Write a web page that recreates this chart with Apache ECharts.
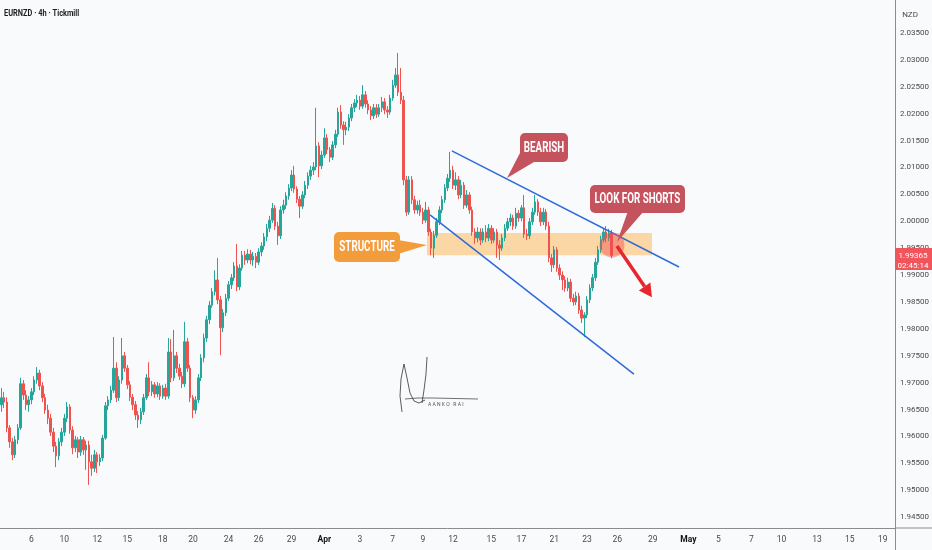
<!DOCTYPE html>
<html><head><meta charset="utf-8">
<script src="https://cdn.jsdelivr.net/npm/echarts@6/dist/echarts.min.js"></script>
<style>html,body{margin:0;padding:0;background:#f9fafc}#c{width:932px;height:550px}</style>
</head><body><div id="c"></div>
<script>
const symbolTitle = 'EURNZD · 4h · Tickmill';
const currency = 'NZD';
const slotCount = 327;
const dateLabelSlots = [11,23,35,46,59,70,83,94,106,118,131,143,154,165,179,190,202,214,225,238,251,262,274,285,298,310,322];
const dateLabels = ['6','10','12','15','18','20','24','26','29','Apr','3','7','9','12','15','17','21','23','26','29','May','5','7','10','13','15','19'];
const monthLabels = ['Apr','May'];
// [open, close, low, high]
const candles = [
[1.9659,1.9672,1.9646,1.9690],[1.9672,1.9664,1.9653,1.9683],[1.9664,1.9616,1.9608,1.9673],[1.9616,1.9590,1.9579,1.9621],[1.9590,1.9566,1.9556,1.9597],
[1.9566,1.9594,1.9560,1.9601],[1.9594,1.9616,1.9586,1.9623],[1.9616,1.9698,1.9612,1.9709],[1.9698,1.9677,1.9668,1.9705],[1.9677,1.9659,1.9649,1.9686],
[1.9659,1.9668,1.9646,1.9675],[1.9668,1.9683,1.9660,1.9690],[1.9683,1.9705,1.9677,1.9712],[1.9705,1.9718,1.9698,1.9729],[1.9718,1.9694,1.9686,1.9724],
[1.9694,1.9672,1.9664,1.9701],[1.9672,1.9649,1.9642,1.9679],[1.9649,1.9634,1.9623,1.9659],[1.9634,1.9608,1.9601,1.9642],[1.9608,1.9582,1.9571,1.9616],
[1.9582,1.9564,1.9543,1.9590],[1.9564,1.9590,1.9556,1.9597],[1.9590,1.9608,1.9582,1.9616],[1.9608,1.9634,1.9601,1.9642],[1.9634,1.9655,1.9627,1.9664],
[1.9655,1.9612,1.9605,1.9660],[1.9612,1.9579,1.9567,1.9619],[1.9579,1.9594,1.9571,1.9601],[1.9594,1.9571,1.9560,1.9599],[1.9571,1.9594,1.9564,1.9601],
[1.9594,1.9575,1.9566,1.9599],[1.9575,1.9584,1.9538,1.9592],[1.9584,1.9553,1.9510,1.9592],[1.9553,1.9541,1.9527,1.9566],[1.9541,1.9566,1.9534,1.9575],
[1.9566,1.9553,1.9532,1.9571],[1.9553,1.9560,1.9545,1.9567],[1.9560,1.9597,1.9554,1.9603],[1.9597,1.9657,1.9594,1.9664],[1.9657,1.9668,1.9649,1.9675],
[1.9668,1.9686,1.9662,1.9694],[1.9686,1.9727,1.9681,1.9785],[1.9727,1.9672,1.9664,1.9738],[1.9672,1.9705,1.9666,1.9712],[1.9705,1.9750,1.9698,1.9783],
[1.9750,1.9727,1.9720,1.9757],[1.9727,1.9696,1.9688,1.9733],[1.9696,1.9673,1.9666,1.9703],[1.9673,1.9659,1.9649,1.9679],[1.9659,1.9640,1.9631,1.9666],
[1.9640,1.9631,1.9616,1.9647],[1.9631,1.9646,1.9623,1.9653],[1.9646,1.9672,1.9640,1.9679],[1.9672,1.9709,1.9668,1.9716],[1.9709,1.9683,1.9675,1.9738],
[1.9683,1.9696,1.9675,1.9703],[1.9696,1.9679,1.9672,1.9701],[1.9679,1.9694,1.9673,1.9701],[1.9694,1.9675,1.9668,1.9699],[1.9675,1.9690,1.9670,1.9696],
[1.9690,1.9675,1.9668,1.9698],[1.9675,1.9757,1.9670,1.9783],[1.9757,1.9709,1.9701,1.9781],[1.9709,1.9750,1.9703,1.9798],[1.9750,1.9727,1.9718,1.9757],
[1.9727,1.9712,1.9705,1.9735],[1.9712,1.9698,1.9690,1.9720],[1.9698,1.9776,1.9692,1.9813],[1.9776,1.9727,1.9720,1.9783],[1.9727,1.9672,1.9664,1.9733],
[1.9672,1.9649,1.9634,1.9677],[1.9649,1.9668,1.9642,1.9675],[1.9668,1.9709,1.9662,1.9716],[1.9709,1.9746,1.9703,1.9753],[1.9746,1.9783,1.9738,1.9791],
[1.9783,1.9817,1.9776,1.9824],[1.9817,1.9844,1.9809,1.9852],[1.9844,1.9869,1.9839,1.9876],[1.9869,1.9891,1.9862,1.9909],[1.9891,1.9854,1.9846,1.9932],
[1.9854,1.9802,1.9751,1.9861],[1.9802,1.9830,1.9794,1.9837],[1.9830,1.9857,1.9824,1.9865],[1.9857,1.9882,1.9852,1.9889],[1.9882,1.9895,1.9874,1.9902],
[1.9895,1.9917,1.9889,1.9924],[1.9917,1.9878,1.9870,1.9958],[1.9878,1.9913,1.9872,1.9920],[1.9913,1.9937,1.9908,1.9945],[1.9937,1.9928,1.9919,1.9945],
[1.9928,1.9939,1.9922,1.9948],[1.9939,1.9928,1.9920,1.9947],[1.9928,1.9935,1.9917,1.9943],[1.9935,1.9924,1.9913,1.9941],[1.9924,1.9943,1.9919,1.9950],
[1.9943,1.9954,1.9935,1.9961],[1.9954,1.9971,1.9947,1.9978],[1.9971,1.9987,1.9963,1.9995],[1.9987,2.0002,1.9980,2.0010],[2.0002,2.0024,1.9997,2.0034],
[2.0024,1.9991,1.9984,2.0030],[1.9991,1.9973,1.9956,1.9999],[1.9973,2.0021,1.9967,2.0028],[2.0021,2.0030,2.0014,2.0040],[2.0030,2.0047,2.0023,2.0054],
[2.0047,2.0062,2.0040,2.0069],[2.0062,2.0086,2.0056,2.0095],[2.0086,2.0060,2.0053,2.0103],[2.0060,2.0041,2.0034,2.0065],[2.0041,2.0028,2.0006,2.0047],
[2.0028,2.0049,2.0023,2.0056],[2.0049,2.0067,2.0043,2.0075],[2.0067,2.0084,2.0060,2.0091],[2.0084,2.0095,2.0077,2.0103],[2.0095,2.0101,2.0086,2.0110],
[2.0101,2.0140,2.0095,2.0211],[2.0140,2.0103,2.0082,2.0147],[2.0103,2.0123,2.0097,2.0131],[2.0123,2.0155,2.0118,2.0173],[2.0155,2.0133,2.0125,2.0162],
[2.0133,2.0119,2.0110,2.0138],[2.0119,2.0142,2.0114,2.0149],[2.0142,2.0162,2.0136,2.0170],[2.0162,2.0203,2.0157,2.0211],[2.0203,2.0179,2.0172,2.0216],
[2.0179,2.0170,2.0142,2.0186],[2.0170,2.0175,2.0160,2.0185],[2.0175,2.0192,2.0168,2.0199],[2.0192,2.0211,2.0186,2.0218],[2.0211,2.0220,2.0203,2.0227],
[2.0220,2.0225,2.0212,2.0235],[2.0225,2.0214,2.0207,2.0233],[2.0214,2.0235,2.0209,2.0253],[2.0235,2.0218,2.0211,2.0242],[2.0218,2.0207,2.0199,2.0225],
[2.0207,2.0196,2.0188,2.0214],[2.0196,2.0211,2.0190,2.0218],[2.0211,2.0199,2.0192,2.0218],[2.0199,2.0211,2.0194,2.0218],[2.0211,2.0222,2.0203,2.0231],
[2.0222,2.0207,2.0199,2.0229],[2.0207,2.0203,2.0192,2.0214],[2.0203,2.0229,2.0198,2.0235],[2.0229,2.0253,2.0224,2.0263],[2.0253,2.0272,2.0248,2.0285],
[2.0272,2.0240,2.0233,2.0313],[2.0240,2.0225,2.0218,2.0285],[2.0225,2.0077,2.0067,2.0233],[2.0077,2.0017,2.0010,2.0084],[2.0017,2.0077,2.0012,2.0084],
[2.0077,2.0040,2.0032,2.0084],[2.0040,2.0021,2.0014,2.0047],[2.0021,2.0030,2.0014,2.0038],[2.0030,2.0017,2.0010,2.0040],[2.0017,2.0002,1.9995,2.0025],
[2.0002,2.0021,1.9997,2.0036],[2.0021,1.9980,1.9973,2.0027],[1.9980,1.9950,1.9937,1.9986],[1.9950,1.9974,1.9932,1.9982],[1.9974,1.9999,1.9969,2.0006],
[1.9999,2.0021,1.9993,2.0028],[2.0021,2.0040,2.0015,2.0047],[2.0040,2.0062,2.0034,2.0069],[2.0062,2.0080,2.0056,2.0088],[2.0080,2.0095,2.0073,2.0129],
[2.0095,2.0067,2.0060,2.0103],[2.0067,2.0077,2.0058,2.0091],[2.0077,2.0049,2.0041,2.0084],[2.0049,2.0067,2.0043,2.0077],[2.0067,2.0030,2.0023,2.0073],
[2.0030,2.0049,2.0025,2.0058],[2.0049,2.0021,2.0014,2.0054],[2.0021,1.9980,1.9973,2.0027],[1.9980,1.9969,1.9958,1.9987],[1.9969,1.9980,1.9961,1.9989],
[1.9980,1.9965,1.9956,1.9987],[1.9965,1.9980,1.9960,1.9987],[1.9980,1.9969,1.9961,1.9993],[1.9969,1.9987,1.9963,1.9995],[1.9987,1.9965,1.9958,1.9993],
[1.9965,1.9980,1.9960,1.9987],[1.9980,1.9956,1.9932,1.9986],[1.9956,1.9950,1.9928,1.9965],[1.9950,1.9969,1.9945,1.9976],[1.9969,1.9987,1.9963,1.9995],
[1.9987,1.9999,1.9982,2.0006],[1.9999,2.0006,1.9991,2.0014],[2.0006,1.9991,1.9984,2.0012],[1.9991,2.0015,1.9986,2.0025],[2.0015,2.0006,1.9999,2.0021],
[2.0006,2.0025,2.0000,2.0030],[2.0025,1.9976,1.9969,2.0049],[1.9976,1.9973,1.9965,1.9986],[1.9973,1.9999,1.9967,2.0006],[1.9999,2.0017,1.9993,2.0025],
[2.0017,2.0036,2.0012,2.0049],[2.0036,2.0017,2.0010,2.0041],[2.0017,1.9999,1.9991,2.0025],[1.9999,2.0017,1.9993,2.0025],[2.0017,1.9991,1.9984,2.0023],
[1.9991,1.9932,1.9924,1.9999],[1.9932,1.9919,1.9906,1.9939],[1.9919,1.9947,1.9913,1.9954],[1.9947,1.9913,1.9906,1.9952],[1.9913,1.9900,1.9891,1.9920],
[1.9900,1.9891,1.9872,1.9907],[1.9891,1.9876,1.9869,1.9898],[1.9876,1.9887,1.9870,1.9895],[1.9887,1.9857,1.9850,1.9893],[1.9857,1.9850,1.9843,1.9865],
[1.9850,1.9861,1.9844,1.9869],[1.9861,1.9835,1.9828,1.9867],[1.9835,1.9820,1.9811,1.9843],[1.9820,1.9826,1.9785,1.9831],[1.9826,1.9854,1.9820,1.9861],
[1.9854,1.9876,1.9848,1.9883],[1.9876,1.9895,1.9870,1.9902],[1.9895,1.9924,1.9889,1.9932],[1.9924,1.9947,1.9919,1.9954],[1.9947,1.9965,1.9941,1.9973],
[1.9965,1.9980,1.9960,1.9987],[1.9980,1.9969,1.9961,1.9991],[1.9969,1.9978,1.9963,1.9986],[1.9978,1.99365,1.9931,1.9984]
];
const lastPrice = 1.99365;
const countdown = '02:45:14';
// annotations in data units: [slot index, price]
const upperChannel = [[164.6, 2.0131], [247.6, 1.9915]];
const lowerChannel = [[156.6, 2.0012], [231.1, 1.9716]];
const structureZone = [[155.5, 1.9978], [237.7, 1.9937]];
const focusCircle = [223.1, 1.9956];
const arrowPath = [[224.9, 1.9954], [237.7, 1.9859]];

const FC = "Roboto,'Liberation Sans',sans-serif";
const categories = Array.from({length: slotCount}, (_, i) => String(i));
const labelAt = {};
dateLabelSlots.forEach((s, k) => { labelAt[s] = dateLabels[k]; });

const chart = echarts.init(document.getElementById('c'), null, {renderer: 'canvas'});
chart.setOption({
  animation: false,
  backgroundColor: '#f9fafc',
  grid: {left: 0, right: 37, top: 0, bottom: 22, containLabel: false, outerBoundsMode: 'none'},
  xAxis: [{
    type: 'category', data: categories, boundaryGap: true,
    axisLine: {onZero: false, lineStyle: {color: '#8c8c8c', width: 1}},
    axisTick: {show: false}, splitLine: {show: false},
    axisLabel: {
      interval: 0, margin: 7, color: '#4a4a4a', fontSize: 8.5, fontFamily: FC,
      formatter: v => { const t = labelAt[+v]; if (!t) return ''; return monthLabels.includes(t) ? '{b|' + t + '}' : t; },
      rich: {b: {fontWeight: 'bold', color: '#111', fontSize: 8.5, fontFamily: FC}}
    }
  }, {type: 'value', min: -0.5, max: slotCount - 0.5, show: false}],
  yAxis: {
    type: 'value', position: 'right', min: 1.94299, max: 2.04113,
    splitNumber: 20, minInterval: 0.005, maxInterval: 0.005,
    axisLine: {show: true, onZero: false, lineStyle: {color: '#8c8c8c', width: 1}},
    axisTick: {show: false}, splitLine: {show: false},
    axisLabel: {showMinLabel: false, showMaxLabel: false, margin: 5, color: '#4a4a4a', fontSize: 8, fontFamily: FC,
      formatter: v => v > 2.0376 ? '' : v.toFixed(5)}
  },
  series: [{
    type: 'candlestick', data: candles, barWidth: 2,
    itemStyle: {color: '#26a69a', color0: '#ef5350', borderColor: '#26a69a', borderColor0: '#ef5350', borderWidth: 1}
  }]
});

const px = d => chart.convertToPixel({xAxisIndex: 1, yAxisIndex: 0}, d);
const els = [];
(function(){
  const a = px(structureZone[0]), b = px(structureZone[1]);
  els.push({type: 'rect', z: 1, shape: {x: a[0], y: a[1], width: b[0] - a[0], height: b[1] - a[1]}, style: {fill: 'rgba(255,180,80,0.5)'}});
})();
function seg(pair, color, w) {
  const p = px(pair[0]), q = px(pair[1]);
  return {type: 'line', z: 20, shape: {x1: p[0], y1: p[1], x2: q[0], y2: q[1]}, style: {stroke: color, lineWidth: w}};
}
els.push(seg(upperChannel, '#2f6ad9', 1.5));
els.push(seg(lowerChannel, '#2f6ad9', 1.5));
(function(){
  const c = px(focusCircle);
  els.push({type: 'circle', z: 25, shape: {cx: c[0], cy: c[1], r: 12.5}, style: {fill: 'rgba(240,80,80,0.45)'}});
})();
(function(){
  const s = px(arrowPath[0]), t = px(arrowPath[1]);
  const dx = t[0] - s[0], dy = t[1] - s[1], L = Math.hypot(dx, dy);
  const ux = dx / L, uy = dy / L, hl = 13, hw = 7;
  const bx = t[0] - ux * hl, by = t[1] - uy * hl;
  els.push({type: 'line', z: 30, shape: {x1: s[0], y1: s[1], x2: bx, y2: by}, style: {stroke: '#e8262e', lineWidth: 3.5}});
  els.push({type: 'polygon', z: 30, shape: {points: [[t[0], t[1]], [bx - uy * hw, by + ux * hw], [bx + uy * hw, by - ux * hw]]}, style: {fill: '#e8262e'}});
})();
function callout(box, base1, base2, tip, text, color) {
  els.push({type: 'polygon', z: 40, shape: {points: [base1, tip, base2]}, style: {fill: color}});
  els.push({type: 'rect', z: 40, shape: {x: box[0], y: box[1], width: box[2], height: box[3], r: 5}, style: {fill: color}});
  els.push({type: 'text', z: 41, x: box[0] + box[2] / 2, y: box[1] + box[3] / 2 + 0.5, scaleX: 0.7,
    style: {x: 0, y: 0, text: text, fill: '#ffffff', fontSize: 14, fontWeight: 'bold', fontFamily: FC, align: 'center', verticalAlign: 'middle'}});
}
callout([334, 232, 66, 30], [398, 240], [398, 254], [427, 245], 'STRUCTURE', '#f39c3c');
callout([520, 133, 48, 29], [520, 153], [534, 162], [507, 178], 'BEARISH', '#c4535d');
callout([590, 185, 95, 28], [628, 211], [644, 211], [617, 242], 'LOOK FOR SHORTS', '#c4535d');
// signature watermark
els.push({type: 'polyline', z: 5, shape: {points: [[402,412],[400,396],[401,379],[404,364],[407,378],[410,393],[414,401],[419,403],[425,400]]}, style: {stroke: '#333', lineWidth: 0.8, fill: null}});
els.push({type: 'polyline', z: 5, shape: {points: [[427,357],[426,374],[424,390],[422,403]]}, style: {stroke: '#333', lineWidth: 0.8, fill: null}});
els.push({type: 'polyline', z: 5, shape: {points: [[405,399],[418,398],[432,398],[478,399]]}, style: {stroke: '#333', lineWidth: 0.7, fill: null}});
els.push({type: 'text', z: 5, x: 428, y: 405, style: {text: 'A A N K O   R A I', fill: '#555', fontSize: 5, fontFamily: FC, verticalAlign: 'middle'}});
els.push({type: 'text', z: 50, x: 4, y: 14, scaleX: 0.78, style: {x: 0, y: 0, text: symbolTitle, fill: '#1e1e1e', fontSize: 9.5, fontWeight: 'bold', fontFamily: FC, verticalAlign: 'middle'}});
els.push({type: 'text', z: 50, x: 910, y: 15, style: {text: currency, fill: '#4a4a4a', fontSize: 8, fontFamily: FC, align: 'center', verticalAlign: 'middle'}});
// frame extensions of the axes into the corner
els.push({type: 'line', z: 3, shape: {x1: 895, y1: 528, x2: 932, y2: 528}, style: {stroke: '#8c8c8c', lineWidth: 1}});
els.push({type: 'line', z: 3, shape: {x1: 895.5, y1: 528, x2: 895.5, y2: 550}, style: {stroke: '#8c8c8c', lineWidth: 1}});
(function(){
  const yp = px([0, lastPrice])[1];
  els.push({type: 'rect', z: 60, shape: {x: 895, y: yp - 7.5, width: 37, height: 22}, style: {fill: '#f2545b'}});
  els.push({type: 'text', z: 61, x: 913, y: yp + 1, style: {text: lastPrice.toFixed(5), fill: '#fff', fontSize: 8, fontFamily: FC, align: 'center', verticalAlign: 'middle'}});
  els.push({type: 'text', z: 61, x: 913, y: yp + 10.5, style: {text: countdown, fill: '#fff', fontSize: 8, fontFamily: FC, align: 'center', verticalAlign: 'middle'}});
})();
chart.setOption({graphic: {elements: els}});
</script>
</body></html>
